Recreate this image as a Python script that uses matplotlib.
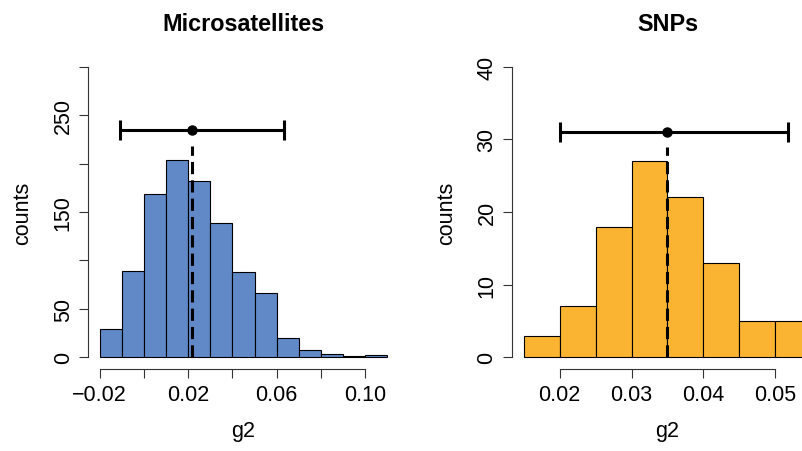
import numpy as np
import matplotlib
matplotlib.use("Agg")
import matplotlib.pyplot as plt

plt.rcParams['font.family'] = ['Liberation Sans', 'DejaVu Sans']

# --- data ---
msat_edges = [-0.02, -0.01, 0.00, 0.01, 0.02, 0.03, 0.04, 0.05, 0.06, 0.07, 0.08, 0.09, 0.10, 0.11]
msat_counts = [29, 89, 169, 204, 182, 139, 88, 66, 20, 8, 3, 1, 2]
msat_mean = 0.0215
msat_ci = [-0.0107, 0.0631]
msat_bar_y = 235
msat_line_top = 218
msat_yticks = [0, 50, 100, 150, 200, 250, 300]
msat_ylabels = ['0', '50', '', '150', '', '250', '']
msat_xticks = [-0.02, 0.00, 0.02, 0.04, 0.06, 0.08, 0.10]
msat_xlabels = ['\u22120.02', '', '0.02', '', '0.06', '', '0.10']

snp_edges = [0.015, 0.020, 0.025, 0.030, 0.035, 0.040, 0.045, 0.050, 0.055]
snp_counts = [3, 7, 18, 27, 22, 13, 5, 5]
snp_mean = 0.035
snp_ci = [0.020, 0.0518]
snp_bar_y = 31
snp_line_top = 28.9
snp_yticks = [0, 10, 20, 30, 40]
snp_ylabels = ['0', '10', '20', '30', '40']
snp_xticks = [0.02, 0.03, 0.04, 0.05]
snp_xlabels = ['0.02', '0.03', '0.04', '0.05']

blue = '#6189C7'
orange = '#FBB431'
W, H = 803, 452
fs = 15.5


def panel(rect, edges, counts, color, mean, ci, bar_y, line_top,
          yticks, ylabels, xticks, xlabels, title):
    ax = fig.add_axes(rect)
    edges = np.array(edges)
    ax.bar(edges[:-1], counts, width=np.diff(edges), align='edge',
           color=color, edgecolor='black', linewidth=0.8)
    # R-style 4% padding
    xr = edges[-1] - edges[0]
    yr = yticks[-1] - yticks[0]
    ax.set_xlim(edges[0] - 0.04 * xr, edges[-1] + 0.04 * xr)
    ax.set_ylim(yticks[0] - 0.04 * yr, yticks[-1] + 0.04 * yr)

    # mean + interval
    ax.plot([mean, mean], [0, line_top], color='black', lw=2.2,
            linestyle=(0, (4, 2)))
    ax.errorbar([mean], [bar_y], xerr=[[mean - ci[0]], [ci[1] - mean]],
                fmt='o', color='black', ms=6.5, elinewidth=2.2,
                capsize=7, capthick=2.2)

    for s in ['top', 'right']:
        ax.spines[s].set_visible(False)
    ax.spines['left'].set_bounds(yticks[0], yticks[-1])
    ax.spines['bottom'].set_bounds(xticks[0], xticks[-1])
    for s in ['left', 'bottom']:
        ax.spines[s].set_linewidth(0.8)
        ax.spines[s].set_color('#333333')

    ax.set_yticks(yticks)
    ax.set_yticklabels(ylabels, rotation=90, va='center')
    ax.set_xticks(xticks)
    ax.set_xticklabels(xlabels)
    ax.tick_params(direction='out', length=6.5, width=0.8, color='#333333',
                   labelsize=fs, pad=4)

    ax.set_xlabel('g2', fontsize=fs, labelpad=11)
    ax.set_ylabel('counts', fontsize=fs, labelpad=14)
    ax.set_title(title, fontsize=16.8, fontweight='bold', pad=18)
    return ax


fig = plt.figure(figsize=(W / 100, H / 100), dpi=100)

panel([88.3 / W, (H - 370) / H, 310.5 / W, 314 / H],
      msat_edges, msat_counts, blue, msat_mean, msat_ci, msat_bar_y, msat_line_top,
      msat_yticks, msat_ylabels, msat_xticks, msat_xlabels, 'Microsatellites')

panel([512.2 / W, (H - 370) / H, 310.5 / W, 314 / H],
      snp_edges, snp_counts, orange, snp_mean, snp_ci, snp_bar_y, snp_line_top,
      snp_yticks, snp_ylabels, snp_xticks, snp_xlabels, 'SNPs')

fig.savefig('out.png', dpi=100)
